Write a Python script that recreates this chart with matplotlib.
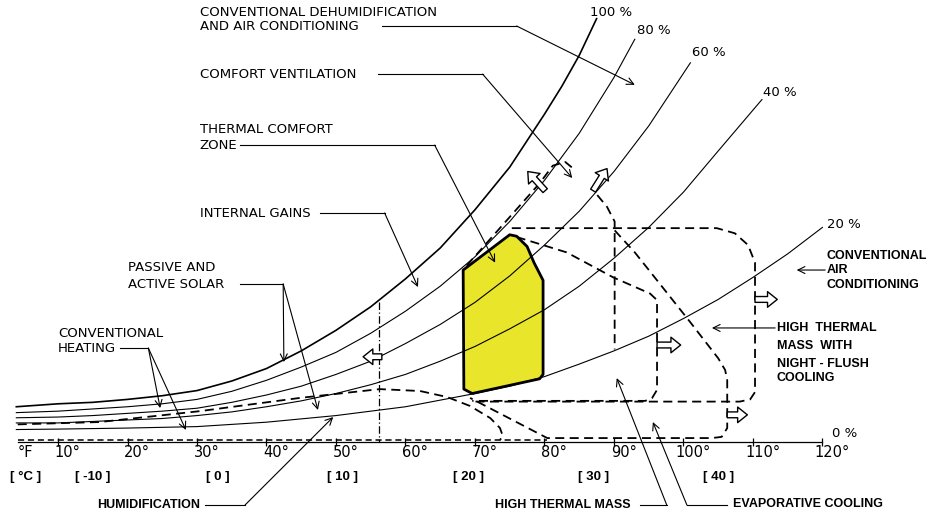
# bioclimatic chart - psychrometric chart with design strategy zones

import matplotlib.pyplot as plt
from matplotlib.patches import Polygon

# relative humidity curves: dry bulb (F) vs humidity ratio (g/kg)
rh100_t = [4, 10, 15, 20, 25, 30, 35, 40, 45, 50, 55, 60, 65, 70, 75, 80, 82.5, 85, 87.5]
rh100_w = [2.4, 2.6, 2.7, 2.9, 3.15, 3.5, 4.15, 5.0, 6.2, 7.6, 9.2, 11.1, 13.2, 15.8, 18.7, 22.3, 24.2, 26.3, 28.8]

rh80_t = [4, 10, 15, 20, 25, 30, 35, 40, 45, 50, 55, 60, 65, 70, 75, 80, 85, 90, 93]
rh80_w = [2.0, 2.1, 2.25, 2.4, 2.6, 2.9, 3.45, 4.2, 5.1, 6.1, 7.4, 8.9, 10.6, 12.6, 15.0, 17.8, 21.0, 24.8, 27.4]

rh60_t = [4, 10, 15, 20, 25, 30, 35, 40, 45, 50, 55, 60, 65, 70, 75, 80, 85, 90, 95, 101]
rh60_w = [1.65, 1.7, 1.8, 1.95, 2.1, 2.3, 2.7, 3.2, 3.8, 4.6, 5.5, 6.7, 8.0, 9.5, 11.3, 13.4, 15.7, 18.4, 21.5, 25.8]

rh40_t = [4, 10, 15, 20, 25, 30, 35, 40, 45, 50, 55, 60, 65, 70, 75, 80, 85, 90, 95, 100, 105, 111.3]
rh40_w = [1.3, 1.3, 1.4, 1.5, 1.6, 1.8, 2.05, 2.4, 2.8, 3.3, 3.9, 4.6, 5.5, 6.5, 7.7, 9.0, 10.6, 12.5, 14.6, 17.0, 19.8, 23.3]

rh20_t = [4, 10, 20, 30, 40, 50, 60, 65, 70, 75, 80, 85, 90, 95, 100, 105, 110, 115, 120]
rh20_w = [0.85, 0.88, 0.95, 1.05, 1.35, 1.8, 2.4, 2.85, 3.3, 3.8, 4.45, 5.3, 6.2, 7.2, 8.4, 9.7, 11.2, 12.8, 14.6]

rh_labels = ["100 %", "80 %", "60 %", "40 %", "20 %", "0 %"]
rh_label_t = [86.6, 93.3, 101.2, 111.4, 120.6, 121.4]
rh_label_w = [29.2, 28.0, 26.5, 23.8, 14.8, 0.6]

# comfort zone outline
comfort_t = [68.3, 75.0, 76.0, 77.5, 78.5, 79.8, 79.8, 79.3, 69.6, 68.4]
comfort_w = [11.7, 14.1, 14.0, 13.3, 12.2, 11.0, 4.6, 4.3, 3.3, 3.6]

# strategy zone boundaries (dashed)
ventilation_t = [68.8, 79.3, 81.2, 83.0, 84.4]
ventilation_w = [12.0, 17.6, 18.8, 19.05, 18.5]
ventilation2_t = [87.6, 89.0, 90.1, 90.1]
ventilation2_w = [16.8, 16.0, 15.0, 6.3]

ac_box_t = [75.3, 104.8, 107.4, 109.3, 110.3, 110.3, 109.6, 108.1, 69.6]
ac_box_w = [14.55, 14.55, 14.2, 13.4, 12.2, 3.4, 2.9, 2.75, 2.75]

mass_t = [76.0, 83.2, 89.9, 95.2, 96.2, 96.2, 95.5, 94.5, 69.6]
mass_w = [13.95, 12.9, 11.2, 10.1, 9.65, 3.55, 3.0, 2.8, 2.8]

evap_t = [90.1, 93.0, 96.2, 100.9, 105.0, 106.0, 106.3, 106.3, 105.5, 104.1, 80.4, 69.3]
evap_w = [14.4, 12.9, 11.0, 8.2, 5.7, 4.9, 4.2, 0.95, 0.35, 0.27, 0.27, 3.0]

humid_t = [4.2, 16.0, 30.4, 44.8, 56.3, 62.1, 66.0, 69.3, 72.2, 73.6, 74.0, 73.6]
humid_w = [1.2, 1.36, 2.1, 3.0, 3.6, 3.47, 3.06, 2.45, 1.63, 0.95, 0.41, 0.14]

gains_t = [56.2, 56.2]
gains_w = [9.5, 0.0]

# temperature scale
f_ticks = [10, 20, 30, 40, 50, 60, 70, 80, 90, 100, 110, 120]
f_labels = ["10°", "20°", "30°", "40°", "50°", "60°", "70°", "80°", "90°", "100°", "110°", "120°"]
c_ticks = [-10, 0, 10, 20, 30, 40]
c_labels = ["[ -10 ]", "[ 0 ]", "[ 10 ]", "[ 20 ]", "[ 30 ]", "[ 40 ]"]

# hollow "zone extension" arrows: (tail t, tail w, head t, head w)
ext_arrows = [
    (56.6, 5.8, 53.9, 5.8),
    (80.1, 17.1, 77.6, 18.4),
    (87.0, 17.1, 89.0, 18.6),
    (96.2, 6.6, 99.6, 6.6),
    (110.3, 9.7, 113.5, 9.7),
    (106.3, 1.85, 109.2, 1.85),
]

fig = plt.figure(figsize=(9.35, 5.17), dpi=100)
ax = fig.add_axes([0, 0, 1, 1])
ax.set_xlim(1.65, 136.2)
ax.set_ylim(-5.1, 30.07)
ax.axis("off")

# comfort zone fill under the curves, outline on top
ax.add_patch(Polygon(list(zip(comfort_t, comfort_w)), closed=True, fc="#e9e52b", ec="none", zorder=1))
ax.add_patch(Polygon(list(zip(comfort_t, comfort_w)), closed=True, fc="none", ec="black", lw=2.0,
                     joinstyle="round", zorder=4))

ax.plot(rh100_t, rh100_w, color="black", lw=1.2, zorder=2)
for t, w in [(rh80_t, rh80_w), (rh60_t, rh60_w), (rh40_t, rh40_w), (rh20_t, rh20_w)]:
    ax.plot(t, w, color="black", lw=0.8, zorder=2)

# 0 % line with ticks
ax.plot([4.2, 120], [0, 0], color="black", lw=0.9, zorder=2)
ax.plot([4.2, 80.4], [0.12, 0.12], color="black", lw=1.1, ls=(0, (4, 2.5)), zorder=2)
ax.vlines(f_ticks, -0.3, 0.3, color="black", lw=0.9)

dash = (0, (5, 3))
for t, w in [(ventilation_t, ventilation_w), (ventilation2_t, ventilation2_w), (ac_box_t, ac_box_w),
             (mass_t, mass_w), (evap_t, evap_w), (humid_t, humid_w)]:
    ax.plot(t, w, color="black", lw=1.3, ls=dash, zorder=3)
ax.plot(gains_t, gains_w, color="black", lw=0.9, ls=(0, (6, 2, 1, 2)), zorder=3)

for t0, w0, t1, w1 in ext_arrows:
    ax.annotate("", xy=(t1, w1), xytext=(t0, w0),
                arrowprops=dict(arrowstyle="simple,head_length=0.5,head_width=0.8,tail_width=0.3",
                                fc="white", ec="black", lw=1.0, shrinkA=0, shrinkB=0,
                                mutation_scale=14), zorder=5)

# labels on the axis
for t, lab in zip(f_ticks, f_labels):
    ax.text(t + 1.4, -0.7, lab, ha="center", va="center", fontsize=10.5, family="DejaVu Sans")
ax.text(5.3, -0.7, "°F", ha="center", va="center", fontsize=10.5, family="DejaVu Sans")
for c, lab in zip(c_ticks, c_labels):
    ax.text(c * 1.8 + 32 + 1.0, -2.35, lab, ha="center", va="center", fontsize=9.5,
            family="Liberation Sans", weight="bold")
ax.text(5.3, -2.35, "[ °C ]", ha="center", va="center", fontsize=9.5, family="Liberation Sans", weight="bold")

for lab, t, w in zip(rh_labels, rh_label_t, rh_label_w):
    ax.text(t, w, lab, ha="left", va="center", fontsize=9.5, family="DejaVu Sans")

# strategy labels and leaders
light = dict(fontsize=9.5, family="DejaVu Sans", va="center", ha="left")
bold = dict(fontsize=9, family="Liberation Sans", weight="bold", va="center", ha="left")
head = dict(arrowstyle="->,head_length=0.5,head_width=0.25", lw=0.8, color="black", shrinkA=0, shrinkB=0)


def leader(pts, tips):
    xs, ys = zip(*pts)
    ax.plot(xs, ys, color="black", lw=0.8)
    for tip in tips:
        ax.annotate("", xy=tip, xytext=pts[-1], arrowprops=head)


ax.text(30.4, 29.25, "CONVENTIONAL DEHUMIDIFICATION", **light)
ax.text(30.4, 28.3, "AND AIR CONDITIONING", **light)
leader([(56.6, 28.3), (76.0, 28.3)], [(93.0, 24.3)])

ax.text(30.4, 25.03, "COMFORT VENTILATION", **light)
leader([(56.0, 25.03), (71.1, 25.03)], [(84.0, 17.96)])

ax.text(30.4, 21.29, "THERMAL COMFORT", **light)
ax.text(30.4, 20.2, "ZONE", **light)
leader([(36.2, 20.2), (64.2, 20.2)], [(72.9, 12.2)])

ax.text(30.4, 15.58, "INTERNAL GAINS", **light)
leader([(47.7, 15.58), (57.0, 15.58)], [(61.8, 10.54)])

ax.text(20.1, 11.9, "PASSIVE AND", **light)
ax.text(20.1, 10.75, "ACTIVE SOLAR", **light)
leader([(36.2, 10.75), (42.4, 10.75)], [(42.5, 5.44), (47.4, 2.18)])

ax.text(10.0, 7.41, "CONVENTIONAL", **light)
ax.text(10.0, 6.39, "HEATING", **light)
leader([(18.9, 6.39), (23.0, 6.39)], [(24.7, 2.31), (28.4, 0.82)])

ax.text(15.6, -4.29, "HUMIDIFICATION", **bold)
leader([(31.2, -4.29), (36.9, -4.29)], [(49.6, 1.70)])

ax.text(72.9, -4.29, "HIGH THERMAL MASS", **bold)
leader([(93.7, -4.29), (97.6, -4.29)], [(90.4, 4.35)])

ax.text(107.1, -4.2, "EVAPORATIVE COOLING", **bold)
leader([(106.3, -4.29), (100.5, -4.29)], [(95.6, 1.36)])

ax.text(120.65, 12.65, "CONVENTIONAL", **bold)
ax.text(120.65, 11.7, "AIR", **bold)
ax.text(120.65, 10.68, "CONDITIONING", **bold)
ax.annotate("", xy=(116.3, 11.7), xytext=(120.4, 11.7), arrowprops=head)

ax.text(113.45, 7.76, "HIGH  THERMAL", **bold)
ax.text(113.45, 6.53, "MASS  WITH", **bold)
ax.text(113.45, 5.31, "NIGHT - FLUSH", **bold)
ax.text(113.45, 4.35, "COOLING", **bold)
ax.annotate("", xy=(104.1, 7.76), xytext=(113.2, 7.76), arrowprops=head)

plt.savefig("out.png", dpi=100)
